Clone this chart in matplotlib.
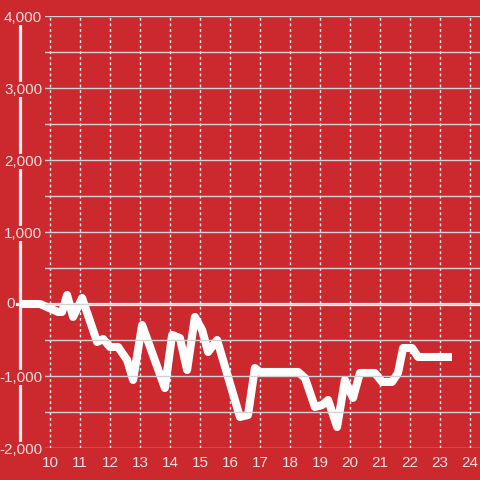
import matplotlib
matplotlib.use('Agg')
import matplotlib.pyplot as plt
import matplotlib.transforms as mtransforms
from matplotlib.ticker import FuncFormatter, MultipleLocator

# Dados (hora, valor)
hours = [9.0, 9.67, 10.27, 10.4, 10.57, 10.77, 11.07, 11.57, 11.77, 12.0, 12.27,
         12.57, 12.77, 13.07, 13.83, 14.07, 14.33, 14.57, 14.83, 15.07, 15.27,
         15.57, 16.33, 16.6, 16.83, 17.0, 18.27, 18.5, 18.83, 19.07, 19.27,
         19.57, 19.83, 20.1, 20.33, 20.83, 21.07, 21.4, 21.6, 21.77, 22.07,
         22.27, 23.4]
values = [0, 0, -111, -111, 125, -180, 83, -528, -486, -597, -597,
          -778, -1055, -292, -1167, -430, -472, -917, -180, -361, -667,
          -500, -1569, -1542, -889, -944, -944, -1028, -1430, -1403, -1333,
          -1708, -1055, -1305, -958, -958, -1083, -1083, -958, -611, -611,
          -736, -736]

x_ticks = list(range(10, 25))

bg = '#cc292e'
txt = '#f4dede'

plt.rcParams['font.family'] = ['Liberation Sans', 'DejaVu Sans']

fig = plt.figure(figsize=(4.8, 4.8), dpi=100, facecolor=bg)
ax = fig.add_axes([45 / 480, 32 / 480, 435 / 480, 432 / 480], facecolor=bg)

ax.set_xlim(9.8333, 24.3333)
ax.set_ylim(-2000, 4000)

# grade
ax.yaxis.set_major_locator(MultipleLocator(1000))
ax.yaxis.set_minor_locator(MultipleLocator(500))
ax.set_xticks(x_ticks)
ax.grid(True, which='both', axis='y', color='#d2d2d2', lw=1, ls='-')
ax.grid(True, which='major', axis='x', color='#f0f0f0', lw=1, ls=(0, (2, 2)))
ax.set_axisbelow(True)

for s in ax.spines.values():
    s.set_visible(False)

ax.tick_params(axis='both', which='both', length=0, colors=txt, labelsize=11)
ax.tick_params(axis='y', pad=2)
ax.tick_params(axis='x', pad=6)
ax.yaxis.set_major_formatter(FuncFormatter(lambda v, p: '' if v == 0 else f'{int(v):,}'))
for lab in ax.get_yticklabels():
    lab.set_bbox(dict(facecolor=bg, edgecolor='none', pad=0.5))
ax.yaxis.set_zorder(5)

blend = mtransforms.blended_transform_factory(ax.transAxes, ax.transData)
# rotulo do zero fica colado na linha
ax.text(-30 / 435, 0, '0', transform=blend, ha='right', va='center',
        color=txt, fontsize=11, zorder=6)

# linha vertical (eixo) e linha do zero
ax.plot([-25.5 / 435, -25.5 / 435], [0, 1], transform=ax.transAxes,
        color='#f4f0f0', lw=2.3, clip_on=False, zorder=1)
ax.plot([-28 / 435, 1], [0, 0], transform=blend,
        color='#f4f0f0', lw=2.3, clip_on=False, zorder=2)

# serie
ax.plot(hours, values, color='white', lw=5.8, solid_joinstyle='round',
        solid_capstyle='butt', clip_on=False, zorder=3)

fig.savefig('out.png', dpi=100, facecolor=bg)
